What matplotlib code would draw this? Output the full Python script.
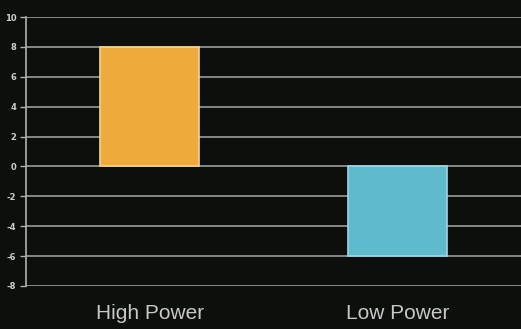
import numpy as np
import matplotlib.pyplot as plt

categories = ['High Power', 'Low Power']
values = [8, -6]
colors = ['#eeaa3a', '#5fbacd']
edges = ['#f3d58f', '#9fd6e2']
yticks = list(range(-8, 11, 2))

bg = '#0c0f0b'
fig = plt.figure(figsize=(5.21, 3.29), dpi=100, facecolor=bg)
ax = fig.add_axes([0.05, 0.131, 0.95, 0.817], facecolor=bg)

x = np.arange(len(categories))
ax.set_axisbelow(True)
ax.bar(x, values, width=0.4, color=colors, edgecolor=edges, linewidth=1.2, zorder=3)

ax.set_xlim(-0.5, 1.5)
ax.set_ylim(-8, 10)
ax.set_yticks(yticks)
ax.set_yticklabels([str(t) for t in yticks], fontsize=6, color='#cfcfcf', fontweight='bold')
ax.set_xticks(x)
ax.set_xticklabels(categories, fontsize=15, color='#c8c8c8', family='Liberation Sans')
ax.tick_params(axis='x', length=0, pad=13)
ax.tick_params(axis='y', length=4, width=1, color='#b0b0b0', pad=3)
ax.yaxis.grid(True, color='#9c9c9c', linewidth=1.2)

for s in ['top', 'right', 'bottom']:
    ax.spines[s].set_visible(False)
ax.spines['left'].set_color('#b0b0b0')
ax.spines['left'].set_linewidth(1.2)

fig.savefig('out.png', dpi=100, facecolor=bg)
